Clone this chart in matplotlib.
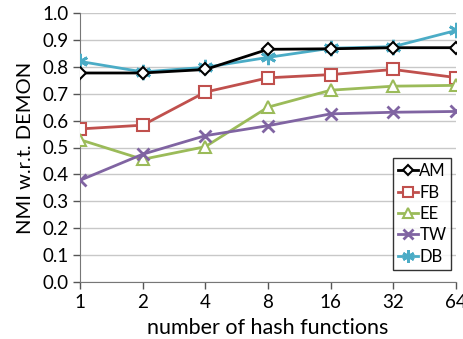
import matplotlib
matplotlib.use("Agg")
import matplotlib.pyplot as plt

plt.rcParams['font.family'] = ['Lato', 'DejaVu Sans']

x_labels = ["1", "2", "4", "8", "16", "32", "64"]
AM = [0.777, 0.777, 0.790, 0.865, 0.867, 0.871, 0.871]
FB = [0.569, 0.583, 0.706, 0.759, 0.771, 0.790, 0.760]
EE = [0.529, 0.456, 0.503, 0.650, 0.713, 0.728, 0.731]
TW = [0.378, 0.475, 0.544, 0.581, 0.625, 0.631, 0.634]
DB = [0.820, 0.781, 0.798, 0.835, 0.869, 0.875, 0.935]

fig = plt.figure(figsize=(4.63, 3.39), dpi=100)
ax = fig.add_axes([80/463, 1-282/339, (456-80)/463, (282-13)/339])

xs = list(range(len(x_labels)))
lw = 2.0
ax.plot(xs, AM, color='black', lw=lw, marker='D', ms=6, mfc='white', mec='black', mew=1.5, label='AM', zorder=5)
ax.plot(xs, FB, color='#c0504d', lw=lw, marker='s', ms=9, mfc='white', mec='#c0504d', mew=1.5, label='FB', zorder=4)
ax.plot(xs, EE, color='#9bbb59', lw=lw, marker='^', ms=9, mfc='white', mec='#9bbb59', mew=1.5, label='EE', zorder=4)
ax.plot(xs, TW, color='#8064a2', lw=lw, marker='x', ms=9, mec='#8064a2', mew=2, label='TW', zorder=4)
ax.plot(xs, DB, color='#4bacc6', lw=lw, marker=(6, 2, 0), ms=11, mec='#4bacc6', mew=2, label='DB', zorder=3)

ax.set_xlim(0, 6)
ax.set_ylim(0, 1.0)
ax.set_xticks(xs)
ax.set_xticklabels(x_labels)
ax.set_yticks([i/10 for i in range(11)])
ax.set_yticklabels([f"{i/10:.1f}" for i in range(11)])
ax.tick_params(axis='both', labelsize=13.5, colors='#555555', labelcolor='black', length=5, width=1)
ax.tick_params(axis='y', pad=3)
ax.tick_params(axis='x', pad=4)
ax.grid(axis='y', color='#c8c8c8', lw=1)
ax.set_axisbelow(True)
for s in ['top', 'right']:
    ax.spines[s].set_visible(False)
ax.spines['left'].set_color('#777777')
ax.spines['bottom'].set_color('#777777')
ax.set_xlabel('number of hash functions', fontsize=15.5, labelpad=5)
ax.set_ylabel('NMI w.r.t. DEMON', fontsize=14.5, labelpad=6)

leg = ax.legend(loc='lower right', bbox_to_anchor=(1.01, 0.015), fontsize=12, frameon=True, fancybox=False,
                edgecolor='black', handlelength=1.2, handletextpad=0.1, borderpad=0.3, labelspacing=0.32,
                markerscale=0.8)
leg.get_frame().set_linewidth(1.0)

fig.savefig('out.png', dpi=100)
